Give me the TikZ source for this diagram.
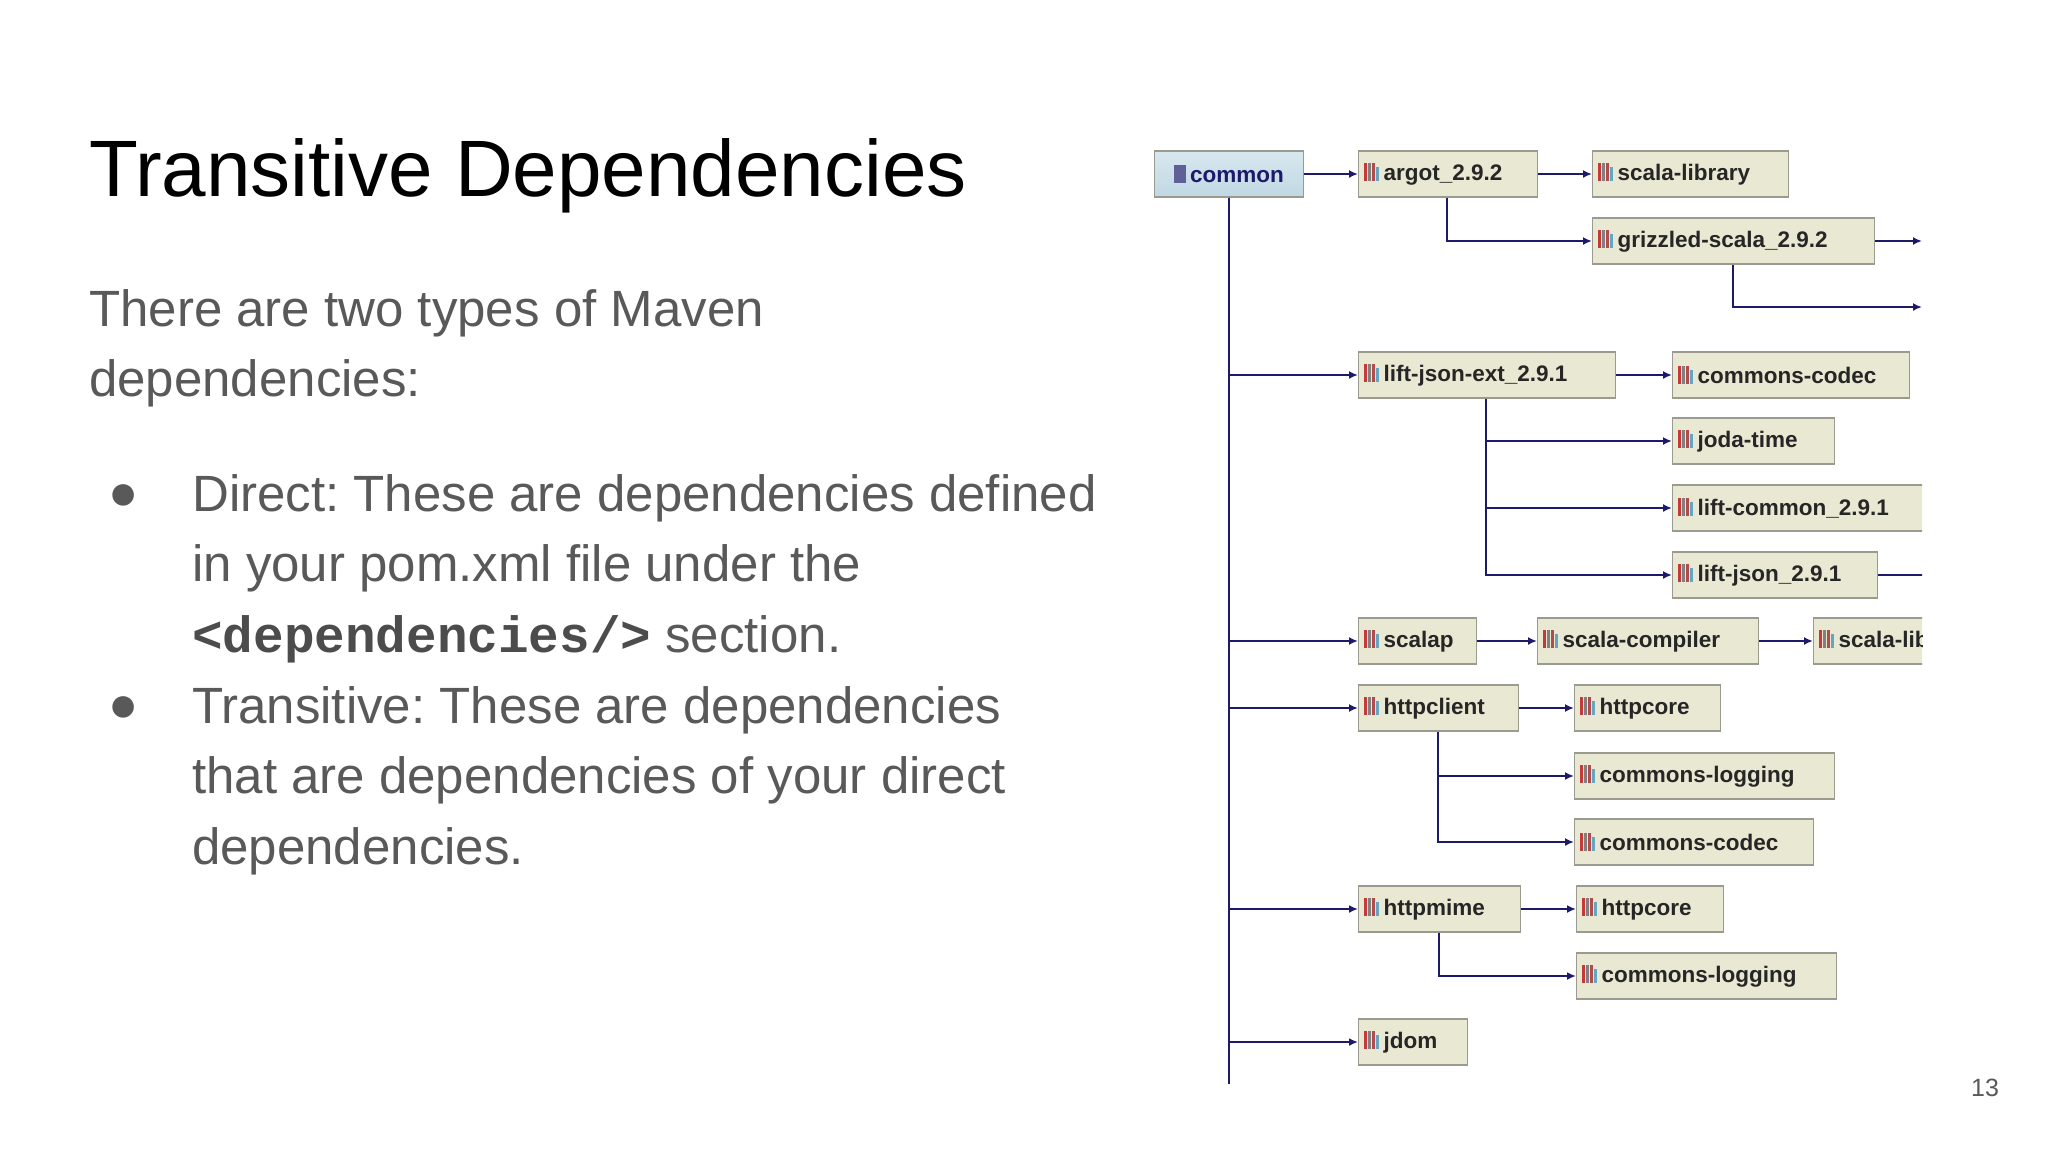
\documentclass[tikz,border=0pt]{standalone}
\usepackage{fontspec}
\setmainfont{Liberation Sans}
\newfontfamily\codefont{Liberation Mono}
\usetikzlibrary{arrows.meta}
\frenchspacing
\definecolor{bodygray}{HTML}{595959}
\definecolor{navy}{HTML}{1E1A6A}
\definecolor{boxfill}{HTML}{E9E8D2}
\definecolor{boxedge}{HTML}{9A9A8E}
\definecolor{cfill}{HTML}{BFD8E4}
\newcommand{\jaricon}{{\color{red!55!gray}\rule{3pt}{18pt}}\hspace{1pt}{\color{gray}\rule{3pt}{18pt}}\hspace{1pt}{\color{red!40!gray}\rule{3pt}{18pt}}\hspace{1pt}{\color{cyan!50!gray}\rule{3pt}{14pt}}\hspace{5pt}}
\newcommand{\depnode}[5]{\node[depbox,text width=#3-#2-10pt] (#1) at (#2,#4) {\jaricon#5};}
\tikzset{
  depbox/.style={draw=boxedge,line width=1.2pt,fill=boxfill,anchor=west,minimum height=46pt,
    inner xsep=5pt,align=left,font=\fontsize{22.5}{24}\selectfont\bfseries,text=black!85},
  arr/.style={draw=navy,line width=1.8pt,-{Latex[length=9pt,width=8pt]}},
  ln/.style={draw=navy,line width=1.8pt}
}
\begin{document}
\begin{tikzpicture}[x=1pt,y=-1pt]
\useasboundingbox (0,0) rectangle (2048,1152);
\fill[white] (0,0) rectangle (2048,1152);
\node[anchor=base west,inner sep=0,font=\fontsize{80}{84}\selectfont] (title) at (89,196) {Transitive Dependencies};
\node[anchor=north west,inner sep=0,text=bodygray,align=left,font=\fontsize{51}{70}\selectfont] (intro) at (89,289) {There are two types of Maven\\dependencies:};
\node[anchor=north west,inner sep=0,text=bodygray,align=left,font=\fontsize{51}{70.5}\selectfont] (b1) at (192,474) {Direct: These are dependencies defined\\in your pom.xml file under the\\{\codefont\bfseries\color{black!70}<dependencies/>} section.};
\node[anchor=north west,inner sep=0,text=bodygray,align=left,font=\fontsize{51}{70.5}\selectfont] (b2) at (192,686) {Transitive: These are dependencies\\that are dependencies of your direct\\dependencies.};
\node[text=bodygray,font=\fontsize{50}{52}\selectfont,inner sep=0] (d1) at (124,497) {●};
\node[text=bodygray,font=\fontsize{50}{52}\selectfont,inner sep=0] (d2) at (124,709) {●};
\node[text=bodygray,font=\fontsize{25}{28}\selectfont,inner sep=0] (pg) at (1985,1088) {13};
\begin{scope}
\clip (1100,100) rectangle (1922,1100);
\node[draw=boxedge,line width=1.2pt,top color=cfill!60!white,bottom color=cfill,anchor=west,minimum height=46pt,minimum width=149pt,inner xsep=5pt,font=\fontsize{22.5}{24}\selectfont\bfseries,text=navy] (common) at (1154,174) {{\color{navy!70}\rule{12pt}{18pt}}\hspace{4pt}common\hspace{10pt}};
\depnode{argot}{1358}{1537}{174}{argot\_2.9.2}
\depnode{slib}{1592}{1788}{174}{scala-library}
\depnode{griz}{1592}{1874}{241}{grizzled-scala\_2.9.2}
\depnode{lje}{1358}{1615}{375}{lift-json-ext\_2.9.1}
\depnode{cc1}{1672}{1909}{375}{commons-codec}
\depnode{joda}{1672}{1834}{441}{joda-time}
\depnode{lcom}{1672}{1960}{508}{lift-common\_2.9.1}
\depnode{ljson}{1672}{1877}{575}{lift-json\_2.9.1}
\depnode{scalap}{1358}{1476}{641}{scalap}
\depnode{scomp}{1537}{1758}{641}{scala-compiler}
\depnode{slib2}{1813}{2000}{641}{scala-library}
\depnode{hc}{1358}{1518}{708}{httpclient}
\depnode{hcore1}{1574}{1720}{708}{httpcore}
\depnode{clog1}{1574}{1834}{776}{commons-logging}
\depnode{cc2}{1574}{1813}{842}{commons-codec}
\depnode{hm}{1358}{1520}{909}{httpmime}
\depnode{hcore2}{1576}{1723}{909}{httpcore}
\depnode{clog2}{1576}{1836}{976}{commons-logging}
\depnode{jdom}{1358}{1467}{1042}{jdom}
\coordinate (trunkend) at (1229,1084);
\coordinate (gout1) at (1922,241);
\coordinate (gout2) at (1922,307);
\coordinate (ljout) at (1925,575);
\draw[ln] (common.south -| trunkend) -- (trunkend);
\draw[arr] (common) -- (argot);
\draw[arr] (argot) -- (slib);
\draw[arr] (argot.south -| 1447,0) |- (griz.west);
\draw[arr] (griz) -- (gout1);
\draw[arr] (griz.south -| 1733,0) |- (gout2);
\draw[arr] (common.south -| trunkend) |- (lje.west);
\draw[arr] (lje) -- (cc1);
\draw[arr] (lje.south -| 1486,0) |- (joda.west);
\draw[arr] (lje.south -| 1486,0) |- (lcom.west);
\draw[arr] (lje.south -| 1486,0) |- (ljson.west);
\draw[ln] (ljson) -- (ljout);
\draw[arr] (common.south -| trunkend) |- (scalap.west);
\draw[arr] (scalap) -- (scomp);
\draw[arr] (scomp) -- (slib2);
\draw[arr] (common.south -| trunkend) |- (hc.west);
\draw[arr] (hc) -- (hcore1);
\draw[arr] (hc.south -| 1438,0) |- (clog1.west);
\draw[arr] (hc.south -| 1438,0) |- (cc2.west);
\draw[arr] (common.south -| trunkend) |- (hm.west);
\draw[arr] (hm) -- (hcore2);
\draw[arr] (hm.south -| 1439,0) |- (clog2.west);
\draw[arr] (common.south -| trunkend) |- (jdom.west);
\end{scope}
\end{tikzpicture}
\end{document}
